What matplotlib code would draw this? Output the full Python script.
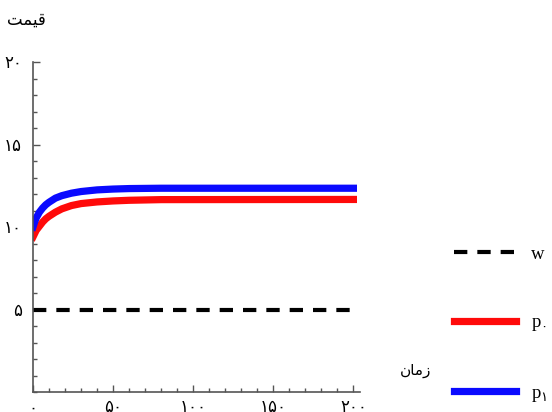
import matplotlib
matplotlib.use("Agg")
import matplotlib.pyplot as plt
from matplotlib.ticker import MultipleLocator, FixedLocator, FixedFormatter

plt.rcParams["font.family"] = ["Liberation Serif", "DejaVu Sans"]
plt.rcParams["mathtext.fontset"] = "custom"
plt.rcParams["mathtext.rm"] = "Liberation Serif"
plt.rcParams["mathtext.sf"] = "DejaVu Sans"

# data
t = [0, 1, 2, 4, 6, 8, 10, 14, 18, 24, 30, 40, 50, 60, 80, 200]
p1 = [10.0, 10.3, 10.55, 10.9, 11.15, 11.35, 11.5, 11.75, 11.9, 12.05, 12.15,
      12.25, 12.3, 12.33, 12.35, 12.35]
p0 = [9.4, 9.6, 9.8, 10.05, 10.3, 10.5, 10.65, 10.9, 11.1, 11.3, 11.42,
      11.52, 11.58, 11.62, 11.66, 11.67]
w_val = 5
w_t = [0, 200]

x_ticks = [0, 50, 100, 150, 200]
x_labels = ["۰", "۵۰", "۱۰۰", "۱۵۰", "۲۰۰"]
y_ticks = [5, 10, 15, 20]
y_labels = ["۵", "۱۰", "۱۵", "۲۰"]

# presentation forms in visual order (matplotlib does no Arabic shaping)
ylabel_txt = "\uFE96\uFEE4\uFEF4\uFED7"   # قیمت
xlabel_txt = "\uFEE5\uFE8E\uFEE3\uFEAF"   # زمان

fig = plt.figure(figsize=(5.52, 4.12), dpi=100)
ax = fig.add_axes([0.0598, 0.0485, 0.592, 0.801])

ax.plot(w_t, [w_val, w_val], color="black", lw=3, dashes=(3.2, 2.4), label="w")
ax.plot(t, p0, color="#ff0a0a", lw=5.2, label=r"$\mathrm{p}_{\mathsf{۰}}$")
ax.plot(t, p1, color="#0a0aff", lw=5.2, label=r"$\mathrm{p}_{\mathsf{۱}}$")

ax.set_xlim(0, 204)
ax.set_ylim(0, 20)
for s in ["top", "right"]:
    ax.spines[s].set_visible(False)
for s in ["left", "bottom"]:
    ax.spines[s].set_color("#555555")
    ax.spines[s].set_linewidth(1.2)

ax.xaxis.set_major_locator(FixedLocator(x_ticks))
ax.xaxis.set_major_formatter(FixedFormatter(x_labels))
ax.xaxis.set_minor_locator(MultipleLocator(10))
ax.yaxis.set_major_locator(FixedLocator(y_ticks))
ax.yaxis.set_major_formatter(FixedFormatter(y_labels))
ax.yaxis.set_minor_locator(MultipleLocator(1))
ax.tick_params(which="both", direction="in", color="#555555", labelsize=12)
ax.tick_params(which="major", length=5, width=1)
ax.tick_params(which="minor", length=3, width=1)
ax.tick_params(axis="y", pad=8)
ax.tick_params(axis="x", pad=6)

fig.text(0.012, 0.94, ylabel_txt, fontsize=12, family="DejaVu Sans")
fig.text(0.725, 0.09, xlabel_txt, fontsize=11, family="DejaVu Sans")

fig.legend(loc="upper left", bbox_to_anchor=(0.823, 0.404), frameon=False,
           borderpad=0, borderaxespad=0, handlelength=3.3, handletextpad=0.8,
           labelspacing=2.75, fontsize=13.5)

fig.savefig("out.png", dpi=100)
